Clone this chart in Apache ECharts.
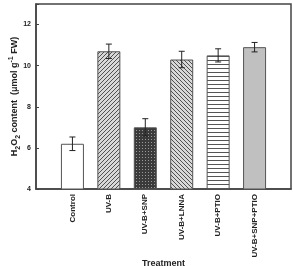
<!DOCTYPE html>
<html>
<head>
<meta charset="utf-8">
<script src="https://cdn.jsdelivr.net/npm/echarts@6/dist/echarts.min.js"></script>
<style>
  html, body { margin: 0; padding: 0; background: #fff; }
  #main { width: 293px; height: 266px; }
</style>
</head>
<body>
<div id="main"></div>
<script>
// 数据
var treatments = ['', 'Control', 'UV-B', 'UV-B+SNP', 'UV-B+LNNA', 'UV-B+PTIO', 'UV-B+SNP+PTIO', ''];
var h2o2 = [null, 6.2, 10.7, 7.0, 10.3, 10.5, 10.9, null];
var errs = [null, 0.33, 0.35, 0.42, 0.4, 0.32, 0.23, null];
var yTicks = [4, 6, 8, 10, 12];

// 填充图案
function makePattern(kind) {
  var c = document.createElement('canvas');
  var s = 4;
  c.width = s; c.height = s;
  var g = c.getContext('2d');
  if (kind === 'hline') {
    g.fillStyle = '#fff'; g.fillRect(0, 0, s, s);
    g.fillStyle = '#555'; g.fillRect(0, 0, s, 1);
  } else if (kind === 'fwd' || kind === 'back') {
    g.fillStyle = '#d8d8d8'; g.fillRect(0, 0, s, s);
    g.strokeStyle = '#505050'; g.lineWidth = 1;
    g.beginPath();
    if (kind === 'fwd') {
      g.moveTo(-1, s + 1); g.lineTo(s + 1, -1);
      g.moveTo(-1, 1); g.lineTo(1, -1);
      g.moveTo(s - 1, s + 1); g.lineTo(s + 1, s - 1);
    } else {
      g.moveTo(-1, -1); g.lineTo(s + 1, s + 1);
      g.moveTo(-1, s - 1); g.lineTo(1, s + 1);
      g.moveTo(s - 1, -1); g.lineTo(s + 1, 1);
    }
    g.stroke();
  } else if (kind === 'dots') {
    c.width = 3; c.height = 3;
    g.fillStyle = '#3a3a3a'; g.fillRect(0, 0, 3, 3);
    g.fillStyle = '#9a9a9a'; g.fillRect(1, 1, 1, 1);
  }
  return { image: c, repeat: 'repeat' };
}

var fills = [null, '#ffffff', makePattern('fwd'), makePattern('dots'), makePattern('back'), makePattern('hline'), '#c0c0c0', null];

var barData = h2o2.map(function (v, i) {
  return { value: v, itemStyle: { color: fills[i] || '#fff' } };
});
var errData = h2o2.map(function (v, i) {
  return v == null ? [i, null, null] : [i, v - errs[i], v + errs[i]];
});

var myChart = echarts.init(document.getElementById('main'));
var option = {
  animation: false,
  textStyle: { fontFamily: 'Liberation Sans, Arial, sans-serif' },
  grid: {
    left: 36, right: 2, top: 4, bottom: 77,
    containLabel: false, outerBoundsMode: 'none',
    show: true, borderColor: '#444', borderWidth: 1.5
  },
  xAxis: {
    type: 'category',
    data: treatments,
    boundaryGap: false,
    axisLine: { lineStyle: { color: '#444', width: 1.5 } },
    axisTick: { show: false },
    axisLabel: {
      rotate: 90, interval: 0, margin: 5,
      fontSize: 8, fontWeight: 'bold', color: '#222'
    },
    name: 'Treatment',
    nameLocation: 'middle',
    nameGap: 70,
    nameMoveOverlap: false,
    nameTextStyle: { fontSize: 9, fontWeight: 'bold', color: '#222' }
  },
  yAxis: {
    type: 'value',
    min: 4, max: 13, interval: 2,
    axisLine: { show: true, lineStyle: { color: '#444', width: 1.5 } },
    axisTick: { show: true, inside: true, length: 3, lineStyle: { color: '#444' } },
    splitLine: { show: false },
    axisLabel: {
      fontSize: 7, fontWeight: 'bold', color: '#222', margin: 5,
      formatter: function (v) { return yTicks.indexOf(v) >= 0 ? v : ''; }
    },
    name: '{t|H}{sub|2}{t|O}{sub|2}{t| content  (μmol g}{sup|-1}{t| FW)}',
    nameLocation: 'middle',
    nameGap: 14,
    nameMoveOverlap: false,
    nameTextStyle: {
      fontSize: 9, fontWeight: 'bold', color: '#222',
      rich: {
        t: { fontSize: 9, fontWeight: 'bold', lineHeight: 14, verticalAlign: 'middle' },
        sub: { fontSize: 7, fontWeight: 'bold', verticalAlign: 'bottom', lineHeight: 8 },
        sup: { fontSize: 7, fontWeight: 'bold', verticalAlign: 'top', lineHeight: 8 }
      }
    }
  },
  series: [
    {
      type: 'bar',
      data: barData,
      barWidth: 23,
      itemStyle: { borderColor: '#555', borderWidth: 1 }
    },
    {
      type: 'custom',
      data: errData,
      z: 10,
      renderItem: function (params, api) {
        if (api.value(1) == null || isNaN(api.value(1))) return;
        var lo = api.coord([api.value(0), api.value(1)]);
        var hi = api.coord([api.value(0), api.value(2)]);
        var w = 3;
        var st = { stroke: '#222', lineWidth: 1 };
        return {
          type: 'group',
          children: [
            { type: 'line', shape: { x1: lo[0], y1: lo[1], x2: hi[0], y2: hi[1] }, style: st },
            { type: 'line', shape: { x1: lo[0] - w, y1: lo[1], x2: lo[0] + w, y2: lo[1] }, style: st },
            { type: 'line', shape: { x1: hi[0] - w, y1: hi[1], x2: hi[0] + w, y2: hi[1] }, style: st }
          ]
        };
      }
    }
  ]
};
myChart.setOption(option);
</script>
</body>
</html>
